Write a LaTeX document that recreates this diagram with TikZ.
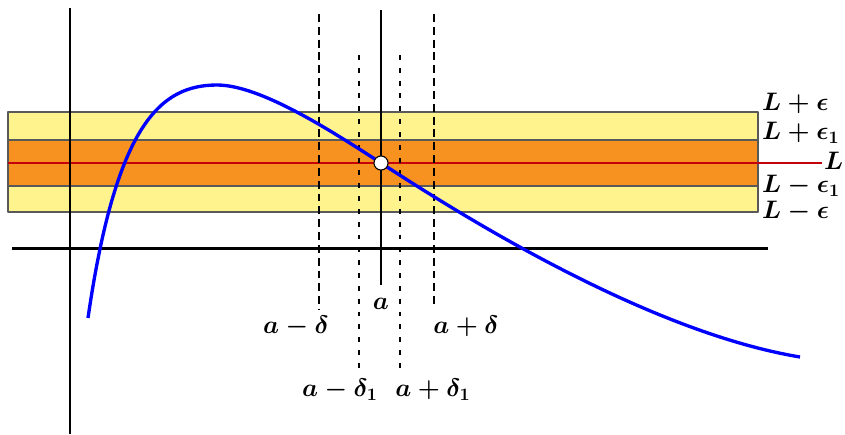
\documentclass[tikz,border=0pt]{standalone}
\usepackage{amsmath,bm}
\definecolor{bandyellow}{HTML}{FEF38C}
\definecolor{bandorange}{HTML}{F7911F}
\definecolor{limred}{HTML}{C4000B}
\begin{document}
\begin{tikzpicture}[x=0.02cm,y=-0.02cm,line join=round,font=\Large\boldmath,
	band/.style={draw=black!65,line width=.6pt},
	axis/.style={line width=1.7pt},
	dline/.style={line width=1.1pt,dash pattern=on 4.5pt off 2.8pt},
	dotline/.style={line width=1.1pt,dash pattern=on 2.8pt off 4.5pt},
	lab/.style={anchor=west,inner sep=1pt}]
	\useasboundingbox (0,0) rectangle (845,434);
	% bands
	\filldraw[band,fill=bandyellow] (8,112) rectangle (758,212);
	\filldraw[band,fill=bandorange] (8,140) rectangle (758,186);
	\path (8,163)coordinate(L0) (822,163)coordinate(L1)
	(12,248)coordinate(X0) (768,248)coordinate(X1)
	(70,8)coordinate(Y0) (70,434)coordinate(Y1)
	(381,10)coordinate(A0) (381,285)coordinate(A1)
	(319,14)coordinate(Dm0) (319,310)coordinate(Dm1)
	(434,14)coordinate(Dp0) (434,308)coordinate(Dp1)
	(359,55)coordinate(Em0) (359,372)coordinate(Em1)
	(400,55)coordinate(Ep0) (400,372)coordinate(Ep1)
	(88,318)coordinate(F0) (217,85)coordinate(Fmax) (800,357)coordinate(F1);
	\draw[limred,line width=1.5pt] (L0) -- (L1);
	\draw[axis] (X0) -- (X1);
	\draw[axis] (Y0) -- (Y1);
	\draw[line width=.8pt] (A0) -- (A1);
	\foreach \p in {Dm,Dp}
		\draw[dline] (\p0) -- (\p1);
	\foreach \p in {Em,Ep}
		\draw[dotline] (\p0) -- (\p1);
	% the function
	\node[circle,inner sep=0pt,minimum size=8pt] (P) at (381,163) {};
	\draw[blue,line width=1.9pt] (F0) .. controls (116,125) and (160,85) .. (Fmax)
	.. controls (260,85) and (330,130) .. (P.center)
	.. controls (470,221) and (650,332) .. (F1);
	\node[circle,draw=black,fill=white,inner sep=0pt,minimum size=8pt,line width=.6pt] at (P) {};
	% labels
	\node[lab] (le) at (760,103) {$L+\epsilon$};
	\node[lab] (le1) at (760,133) {$L+\epsilon_1$};
	\node[lab] (lL) at (822,161) {$L$};
	\node[lab] (lm1) at (760,186) {$L-\epsilon_1$};
	\node[lab] (lm) at (760,211) {$L-\epsilon$};
	\node (la) at (381,304) {$a$};
	\node (lam) at (296,326) {$a-\delta$};
	\node (lap) at (466,326) {$a+\delta$};
	\node (lam1) at (340,390) {$a-\delta_1$};
	\node (lap1) at (433,390) {$a+\delta_1$};
\end{tikzpicture}
\end{document}
